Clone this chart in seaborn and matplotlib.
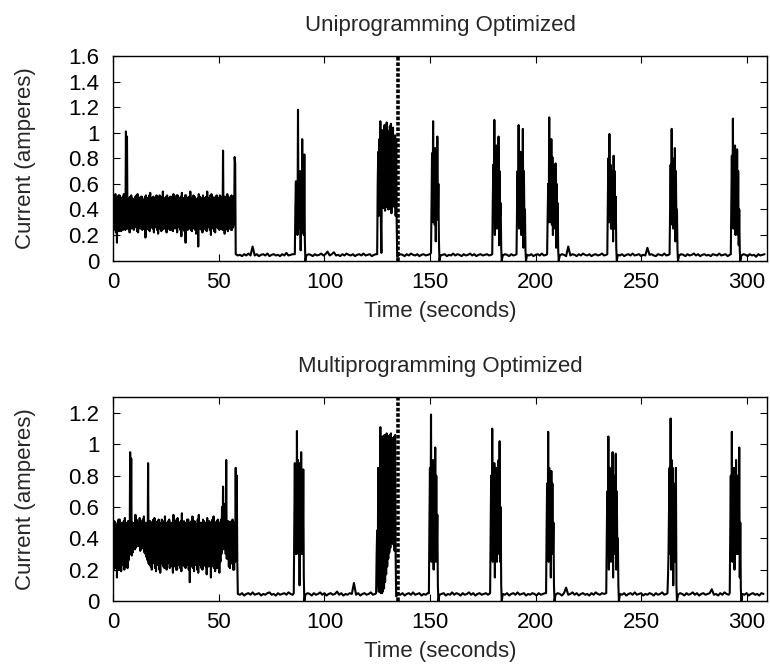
import numpy as np
import pandas as pd
import seaborn as sns
import matplotlib.pyplot as plt
from matplotlib.ticker import FuncFormatter

# sampling of the traces
BAND_DT = 0.25    # seconds between samples in the first (busy) stretch
BURST_DT = 0.25   # seconds between samples inside a burst
IDLE_DT = 1.0     # seconds between samples on the idle floor

# ---- Uniprogramming Optimized ----
uni_band = [  # 0 .. 57.75 s, one row = 2 s
    0.50, 0.24, 0.48, 0.27, 0.52, 0.22, 0.49, 0.14,
    0.48, 0.26, 0.51, 0.23, 0.51, 0.25, 0.47, 0.23,
    0.49, 0.27, 0.50, 0.24, 0.52, 0.26, 0.48, 0.24,
    1.01, 0.30, 0.97, 0.25, 0.49, 0.25, 0.48, 0.22,
    0.50, 0.27, 0.51, 0.25, 0.49, 0.27, 0.47, 0.24,
    0.48, 0.26, 0.50, 0.28, 0.51, 0.23, 0.52, 0.22,
    0.49, 0.26, 0.48, 0.25, 0.50, 0.27, 0.50, 0.24,
    0.48, 0.25, 0.47, 0.26, 0.50, 0.18, 0.51, 0.25,
    0.49, 0.27, 0.49, 0.24, 0.51, 0.23, 0.53, 0.26,
    0.48, 0.26, 0.49, 0.25, 0.50, 0.22, 0.47, 0.26,
    0.49, 0.27, 0.51, 0.24, 0.50, 0.21, 0.48, 0.25,
    0.51, 0.26, 0.50, 0.23, 0.49, 0.24, 0.54, 0.26,
    0.48, 0.25, 0.49, 0.27, 0.50, 0.22, 0.51, 0.25,
    0.49, 0.28, 0.49, 0.24, 0.50, 0.24, 0.48, 0.26,
    0.50, 0.23, 0.52, 0.25, 0.48, 0.27, 0.49, 0.25,
    0.51, 0.22, 0.51, 0.27, 0.49, 0.26, 0.47, 0.24,
    0.50, 0.19, 0.53, 0.25, 0.48, 0.26, 0.49, 0.23,
    0.51, 0.14, 0.51, 0.26, 0.49, 0.24, 0.48, 0.25,
    0.50, 0.27, 0.54, 0.24, 0.49, 0.23, 0.49, 0.26,
    0.51, 0.25, 0.50, 0.24, 0.48, 0.21, 0.47, 0.25,
    0.49, 0.11, 0.52, 0.25, 0.50, 0.27, 0.49, 0.24,
    0.48, 0.22, 0.51, 0.25, 0.49, 0.26, 0.48, 0.24,
    0.50, 0.23, 0.54, 0.26, 0.48, 0.27, 0.49, 0.24,
    0.51, 0.20, 0.52, 0.26, 0.50, 0.25, 0.49, 0.23,
    0.48, 0.22, 0.50, 0.26, 0.51, 0.27, 0.48, 0.25,
    0.49, 0.24, 0.51, 0.25, 0.48, 0.26, 0.50, 0.24,
    0.86, 0.25, 0.49, 0.21, 0.50, 0.27, 0.48, 0.25,
    0.52, 0.23, 0.50, 0.26, 0.49, 0.25, 0.48, 0.24,
    0.51, 0.24, 0.49, 0.26, 0.50, 0.28, 0.81, 0.76]
uni_burst_start = [86.0, 125.0, 150.5, 179.5, 191.0, 205.5, 234.0, 263.5, 292.5]
uni_bursts = [
    [0.05, 0.40, 0.62, 0.22, 0.60, 0.20, 1.18, 0.25, 0.66, 0.30, 0.70, 0.08,
     0.60, 0.25, 0.95, 0.22, 0.65, 0.20, 0.83, 0.15, 0.0],
    [0.05, 0.60, 0.85, 0.35, 0.95, 0.40, 1.09, 0.30, 0.06, 0.70, 1.02, 0.41,
     1.00, 0.45, 1.06, 0.39, 1.03, 0.42, 1.08, 0.43, 0.99, 0.40, 1.01, 0.44,
     1.05, 0.40, 1.07, 0.37, 1.00, 0.42, 1.04, 0.45, 0.97, 0.42, 0.98, 0.35,
     0.95, 0.29, 0.03],
    [0.06, 0.45, 0.84, 0.30, 1.09, 0.32, 0.80, 0.28, 0.88, 0.15, 0.85, 0.35,
     0.97, 0.32, 0.60, 0.16, 0.0],
    [0.05, 0.45, 0.75, 0.30, 1.10, 0.20, 0.85, 0.30, 0.90, 0.25, 0.80, 0.30,
     0.97, 0.12, 0.70, 0.35, 0.45, 0.10, 0.0],
    [0.05, 0.40, 0.70, 0.28, 1.06, 0.25, 0.80, 0.30, 0.85, 0.20, 0.75, 0.28,
     1.03, 0.10, 0.70, 0.30, 0.40, 0.08, 0.0],
    [0.05, 0.35, 0.60, 0.30, 1.12, 0.30, 0.90, 0.35, 0.95, 0.28, 0.81, 0.20,
     0.75, 0.30, 0.70, 0.25, 0.76, 0.10, 0.60, 0.28, 0.45, 0.08, 0.0],
    [0.05, 0.45, 0.80, 0.30, 0.99, 0.30, 0.75, 0.25, 0.70, 0.25, 0.65, 0.15,
     0.82, 0.25, 0.70, 0.30, 0.50, 0.10, 0.0],
    [0.05, 0.40, 0.75, 0.30, 1.03, 0.28, 0.80, 0.25, 0.75, 0.30, 0.88, 0.15,
     0.70, 0.25, 0.40, 0.08, 0.0],
    [0.05, 0.45, 0.82, 0.30, 1.11, 0.25, 0.85, 0.30, 0.90, 0.20, 0.75, 0.30,
     0.87, 0.20, 0.70, 0.12, 0.40, 0.08, 0.0]]
uni_idle_start = [58.0, 91.5, 135.0, 155.0, 184.5, 196.0, 211.5, 239.0, 268.0, 297.5]
uni_idle = [
    [0.05, 0.04, 0.045, 0.035, 0.05, 0.04, 0.055, 0.04, 0.11, 0.04, 0.05, 0.035,
     0.045, 0.05, 0.04, 0.055, 0.035, 0.045, 0.05, 0.04, 0.045, 0.035, 0.05,
     0.04, 0.06, 0.04, 0.045, 0.05],
    [0.04, 0.05, 0.045, 0.035, 0.05, 0.04, 0.045, 0.055, 0.04, 0.05, 0.07, 0.04,
     0.05, 0.065, 0.04, 0.045, 0.035, 0.05, 0.04, 0.055, 0.045, 0.04, 0.05,
     0.035, 0.045, 0.05, 0.04, 0.055, 0.04, 0.045, 0.05, 0.035, 0.045, 0.05],
    [0.04, 0.05, 0.045, 0.035, 0.05, 0.04, 0.055, 0.045, 0.04, 0.05, 0.035,
     0.045, 0.05, 0.04, 0.045, 0.05],
    [0.04, 0.045, 0.05, 0.035, 0.045, 0.04, 0.055, 0.04, 0.05, 0.045, 0.035,
     0.05, 0.04, 0.045, 0.055, 0.04, 0.05, 0.035, 0.045, 0.05, 0.04, 0.045,
     0.05, 0.04, 0.045],
    [0.04, 0.05, 0.045, 0.035, 0.05, 0.04, 0.045],
    [0.045, 0.04, 0.05, 0.035, 0.045, 0.05, 0.04, 0.055, 0.04, 0.045],
    [0.04, 0.05, 0.045, 0.035, 0.11, 0.04, 0.05, 0.045, 0.035, 0.05, 0.04, 0.055,
     0.045, 0.04, 0.05, 0.035, 0.045, 0.05, 0.04, 0.045, 0.055, 0.04, 0.045],
    [0.045, 0.04, 0.05, 0.035, 0.045, 0.05, 0.04, 0.055, 0.04, 0.045, 0.05,
     0.035, 0.045, 0.04, 0.10, 0.045, 0.05, 0.04, 0.035, 0.05, 0.045, 0.04,
     0.055, 0.04, 0.045],
    [0.04, 0.05, 0.045, 0.035, 0.05, 0.04, 0.045, 0.055, 0.04, 0.05, 0.035,
     0.045, 0.05, 0.04, 0.045, 0.035, 0.05, 0.045, 0.04, 0.055, 0.04, 0.045,
     0.05, 0.035, 0.045],
    [0.04, 0.05, 0.045, 0.035, 0.05, 0.04, 0.045, 0.03, 0.05, 0.04, 0.045, 0.05]]
uni_switch = 135.0

# ---- Multiprogramming Optimized ----
multi_band = [  # 0 .. 58.75 s, one row = 2 s
    0.49, 0.20, 0.51, 0.24, 0.50, 0.21, 0.48, 0.15,
    0.48, 0.24, 0.52, 0.20, 0.52, 0.23, 0.49, 0.19,
    0.50, 0.23, 0.49, 0.25, 0.51, 0.20, 0.53, 0.22,
    0.49, 0.24, 0.50, 0.21, 0.51, 0.26, 0.50, 0.30,
    0.95, 0.30, 0.91, 0.29, 0.50, 0.31, 0.48, 0.33,
    0.50, 0.33, 0.55, 0.34, 0.52, 0.36, 0.49, 0.35,
    0.50, 0.35, 0.53, 0.32, 0.51, 0.33, 0.50, 0.34,
    0.52, 0.36, 0.54, 0.31, 0.50, 0.30, 0.50, 0.28,
    0.49, 0.26, 0.88, 0.24, 0.51, 0.23, 0.51, 0.22,
    0.50, 0.20, 0.49, 0.24, 0.52, 0.25, 0.53, 0.21,
    0.49, 0.19, 0.50, 0.23, 0.51, 0.24, 0.52, 0.20,
    0.50, 0.18, 0.49, 0.24, 0.52, 0.25, 0.51, 0.22,
    0.50, 0.21, 0.54, 0.23, 0.49, 0.20, 0.50, 0.24,
    0.51, 0.25, 0.52, 0.21, 0.50, 0.22, 0.49, 0.23,
    0.50, 0.18, 0.55, 0.22, 0.49, 0.24, 0.51, 0.20,
    0.52, 0.20, 0.53, 0.23, 0.50, 0.26, 0.50, 0.21,
    0.51, 0.19, 0.56, 0.24, 0.49, 0.23, 0.51, 0.22,
    0.50, 0.21, 0.49, 0.23, 0.52, 0.25, 0.52, 0.20,
    0.49, 0.12, 0.50, 0.24, 0.51, 0.22, 0.54, 0.21,
    0.50, 0.19, 0.51, 0.23, 0.49, 0.25, 0.49, 0.20,
    0.52, 0.18, 0.55, 0.24, 0.50, 0.23, 0.50, 0.21,
    0.49, 0.20, 0.52, 0.23, 0.51, 0.24, 0.49, 0.22,
    0.50, 0.17, 0.53, 0.24, 0.50, 0.22, 0.51, 0.23,
    0.49, 0.15, 0.50, 0.22, 0.52, 0.24, 0.54, 0.21,
    0.50, 0.19, 0.49, 0.23, 0.51, 0.21, 0.52, 0.24,
    0.49, 0.18, 0.50, 0.25, 0.52, 0.30, 0.60, 0.35,
    0.73, 0.33, 0.58, 0.35, 0.62, 0.30, 0.90, 0.27,
    0.50, 0.27, 0.51, 0.22, 0.50, 0.21, 0.49, 0.24,
    0.51, 0.24, 0.52, 0.20, 0.49, 0.20, 0.50, 0.25,
    0.85, 0.30, 0.80, 0.25]
multi_burst_start = [85.5, 124.5, 149.5, 178.5, 205.0, 233.5, 262.5, 292.0]
multi_bursts = [
    [0.05, 0.50, 0.88, 0.30, 0.85, 0.30, 1.085, 0.35, 0.90, 0.30, 0.88, 0.10,
     0.85, 0.30, 0.95, 0.30, 0.80, 0.30, 0.84, 0.15, 0.0],
    [0.05, 0.30, 0.45, 0.10, 0.85, 0.06, 0.70, 0.06, 1.11, 0.05, 0.95, 0.05,
     1.05, 0.06, 1.02, 0.08, 1.06, 0.12, 1.04, 0.17, 1.07, 0.22, 1.05, 0.27,
     1.05, 0.31, 1.06, 0.34, 1.07, 0.37, 1.04, 0.37, 1.04, 0.36, 1.05, 0.32,
     1.06, 0.28, 0.03],
    [0.05, 0.50, 0.85, 0.30, 1.19, 0.25, 0.85, 0.30, 0.90, 0.20, 0.85, 0.30,
     0.98, 0.25, 0.80, 0.30, 0.55, 0.10, 0.0],
    [0.05, 0.45, 0.80, 0.30, 1.10, 0.25, 0.85, 0.30, 0.88, 0.15, 0.80, 0.30,
     0.85, 0.25, 0.80, 0.30, 0.90, 0.35, 1.02, 0.25, 0.60, 0.10, 0.0],
    [0.05, 0.45, 0.75, 0.30, 1.08, 0.25, 0.85, 0.30, 0.80, 0.15, 0.83, 0.30,
     0.75, 0.30, 0.50, 0.10, 0.0],
    [0.05, 0.40, 0.70, 0.30, 1.05, 0.20, 0.85, 0.30, 0.80, 0.25, 0.85, 0.30,
     0.95, 0.15, 0.80, 0.30, 0.75, 0.30, 0.94, 0.20, 0.70, 0.30, 0.40, 0.10, 0.0],
    [0.05, 0.15, 0.30, 0.60, 0.85, 0.30, 1.165, 0.20, 0.90, 0.30, 0.85, 0.10,
     0.75, 0.30, 0.60, 0.25, 0.85, 0.10, 0.0],
    [0.05, 0.45, 0.80, 0.30, 1.08, 0.25, 0.85, 0.30, 0.85, 0.20, 0.80, 0.30,
     0.90, 0.30, 0.80, 0.30, 0.75, 0.30, 0.98, 0.15, 0.50, 0.08, 0.0]]
multi_idle_start = [59.0, 91.0, 135.0, 154.5, 184.5, 209.5, 240.0, 267.5, 298.0]
multi_idle = [
    [0.045, 0.04, 0.05, 0.035, 0.045, 0.05, 0.04, 0.055, 0.04, 0.045, 0.05,
     0.035, 0.045, 0.04, 0.05, 0.055, 0.04, 0.045, 0.035, 0.05, 0.04, 0.045,
     0.05, 0.04, 0.055, 0.045, 0.04],
    [0.04, 0.05, 0.045, 0.035, 0.05, 0.04, 0.045, 0.055, 0.04, 0.05, 0.035,
     0.045, 0.05, 0.04, 0.045, 0.06, 0.04, 0.05, 0.035, 0.045, 0.04, 0.05,
     0.045, 0.115, 0.04, 0.05, 0.035, 0.045, 0.05, 0.04, 0.045, 0.055, 0.04, 0.045],
    [0.045, 0.04, 0.05, 0.035, 0.045, 0.05, 0.04, 0.055, 0.04, 0.045, 0.05,
     0.035, 0.045, 0.04, 0.05],
    [0.04, 0.045, 0.05, 0.035, 0.045, 0.04, 0.055, 0.04, 0.05, 0.045, 0.035,
     0.05, 0.04, 0.045, 0.055, 0.04, 0.05, 0.035, 0.045, 0.05, 0.04, 0.045,
     0.05, 0.04],
    [0.045, 0.04, 0.05, 0.035, 0.045, 0.05, 0.04, 0.055, 0.04, 0.045, 0.05,
     0.035, 0.045, 0.04, 0.05, 0.045, 0.035, 0.05, 0.04, 0.045, 0.05],
    [0.04, 0.05, 0.045, 0.035, 0.05, 0.085, 0.04, 0.045, 0.055, 0.04, 0.05,
     0.035, 0.045, 0.05, 0.04, 0.045, 0.035, 0.05, 0.04, 0.055, 0.045, 0.04,
     0.05, 0.045],
    [0.045, 0.04, 0.05, 0.035, 0.045, 0.05, 0.04, 0.055, 0.04, 0.045, 0.05,
     0.035, 0.045, 0.04, 0.05, 0.045, 0.035, 0.05, 0.04, 0.045, 0.055, 0.04, 0.045],
    [0.04, 0.05, 0.045, 0.035, 0.05, 0.04, 0.045, 0.055, 0.04, 0.05, 0.035,
     0.045, 0.05, 0.04, 0.045, 0.05, 0.075, 0.04, 0.045, 0.035, 0.05, 0.04,
     0.055, 0.045, 0.04],
    [0.045, 0.04, 0.05, 0.035, 0.045, 0.05, 0.04, 0.045, 0.035, 0.05, 0.045]]
multi_switch = 135.0


def build_trace(band, burst_start, bursts, idle_start, idle):
    frames = [pd.DataFrame({"Time": BAND_DT * np.arange(len(band)), "Current": band})]
    for t0, vals in zip(burst_start, bursts):
        frames.append(pd.DataFrame({"Time": t0 + BURST_DT * np.arange(len(vals)), "Current": vals}))
    for t0, vals in zip(idle_start, idle):
        frames.append(pd.DataFrame({"Time": t0 + IDLE_DT * np.arange(len(vals)), "Current": vals}))
    return pd.concat(frames, ignore_index=True).sort_values("Time")


panels = [
    ("Uniprogramming Optimized",
     build_trace(uni_band, uni_burst_start, uni_bursts, uni_idle_start, uni_idle),
     uni_switch, 1.6, [0.1471, 0.6099, 0.8486, 0.3063]),
    ("Multiprogramming Optimized",
     build_trace(multi_band, multi_burst_start, multi_bursts, multi_idle_start, multi_idle),
     multi_switch, 1.3, [0.1471, 0.1003, 0.8486, 0.3049]),
]

sns.set_theme(style="ticks")
plt.rcParams['font.family'] = ['Liberation Sans', 'DejaVu Sans']
plt.rcParams['axes.edgecolor'] = 'black'
plt.rcParams['axes.linewidth'] = 1.0
plt.rcParams['path.simplify'] = False  # keep every wiggle of the dense trace

fig = plt.figure(figsize=(7.7, 6.68), dpi=100)
fmt = FuncFormatter(lambda v, pos: f"{v:g}")

for title, df, switch_t, ymax, rect in panels:
    ax = fig.add_axes(rect)
    sns.lineplot(data=df, x="Time", y="Current", estimator=None, sort=False,
                 color="black", lw=1.5, ax=ax)
    ax.axvline(switch_t, color="black", lw=2.6, linestyle=(0, (1.0, 0.5)))

    ax.set_xlim(0, 309.5)
    ax.set_ylim(0, ymax)
    ax.set_xticks(np.arange(0, 301, 50))
    ax.set_yticks(np.arange(0, ymax + 0.01, 0.2))
    ax.yaxis.set_major_formatter(fmt)
    ax.tick_params(direction="in", length=5, width=0.8, top=True, right=True,
                   labelsize=16, colors="black")
    ax.tick_params(axis="x", pad=8)
    ax.tick_params(axis="y", pad=10)

    ax.set_title(title, fontsize=16, pad=18)
    ax.set_xlabel("Time (seconds)", fontsize=16, labelpad=6)
    ax.set_ylabel("Current (amperes)", fontsize=16)
    ax.yaxis.set_label_coords(-0.118, 0.5)

fig.savefig("out.png", dpi=100)
